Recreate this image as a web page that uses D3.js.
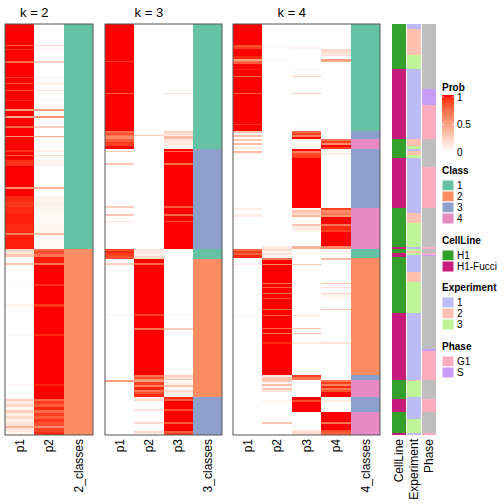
<!DOCTYPE html>
<html><head><meta charset="utf-8">
<script src="https://cdn.jsdelivr.net/npm/d3@7"></script>
<style>body{margin:0;background:#fff}text{font-family:"Liberation Sans",Arial,sans-serif}</style>
</head><body><svg id="c" width="504" height="504"></svg>
<script>
// ---- data: rows are samples in order; segments are [startRow, endRow, ...values, class]
const N = 411;
const k2Cols = ["p1","p2","2_classes"];
const k3Cols = ["p1","p2","p3","3_classes"];
const k4Cols = ["p1","p2","p3","p4","4_classes"];
const classLevels = ["1","2","3","4"];
const classColors = ["#66C2A5","#FC8D62","#8DA0CB","#E78AC3"];

const k2Rows = [
[0,21,1,0,1],[21,22,0.8,0.2,1],[22,25,1,0,1],[25,26,0.9,0.1,1],[26,37,1,0,1],[37,39,0.75,0.25,1],
[39,53,1,0,1],[53,54,0.9,0.1,1],[54,59,1,0,1],[59,60,0.85,0.15,1],[60,66,1,0,1],[66,67,0.85,0.15,1],
[67,76,1,0,1],[76,77,0.95,0.05,1],[77,85,1,0,1],[85,87,0.5,0.5,1],[87,92,1,0,1],[92,94,0.45,0.55,1],
[94,102,1,0,1],[102,104,0.75,0.25,1],[104,112,1,0,1],[112,113,0.55,0.45,1],[113,126,1,0,1],
[126,128,0.93,0.07,1],[128,131,1,0,1],[131,132,0.8,0.2,1],[132,136,1,0,1],[136,142,0.93,0.07,1],
[142,163,1,0,1],[163,165,0.6,0.4,1],[165,172,1,0,1],[172,178,0.95,0.05,1],[178,183,0.92,0.08,1],
[183,190,0.95,0.05,1],[190,200,0.97,0.03,1],[200,209,0.95,0.05,1],[209,211,0.65,0.35,1],[211,225,0.97,0.03,1],
[225,227,0.25,0.75,2],[227,230,0.15,0.85,2],[230,233,0.3,0.7,2],[233,239,0.03,0.97,2],[239,241,0.3,0.7,2],
[241,260,0,1,2],[260,262,0.04,0.94,2],[262,280,0,1,2],[280,283,0.05,0.92,2],[283,310,0,1,2],
[310,312,0.03,0.95,2],[312,360,0,1,2],[360,362,0.04,0.96,2],[362,375,0,1,2],
[375,377,0.25,0.75,2],[377,380,0.1,0.9,2],[380,383,0.2,0.8,2],[383,386,0.05,0.95,2],[386,389,0.25,0.75,2],
[389,392,0.1,0.9,2],[392,395,0.2,0.8,2],[395,398,0.08,0.92,2],[398,402,0.15,0.85,2],[402,404,0.4,0.6,2],
[404,408,0.12,0.88,2],[408,411,0.05,0.95,2]
];

const k3Rows = [
[0,37,1,0,0,1],[37,38,0.92,0.02,0.02,1],[38,69,1,0,0,1],[69,70,0.8,0,0.15,1],[70,107,1,0,0,1],
[107,109,0.75,0,0.25,1],[109,111,0.85,0,0.15,1],[111,112,0.7,0.3,0.1,1],[112,115,0.6,0,0.35,1],
[115,118,0.8,0,0.15,1],[118,122,0.9,0,0.1,1],[122,125,1,0,0.03,1],
[125,127,0,0,1,3],[127,128,0.3,0,0.75,3],[128,139,0,0,1,3],[139,141,0.3,0,0.75,3],[141,182,0,0,1,3],
[182,184,0.25,0,0.8,3],[184,190,0,0,1,3],[190,192,0.3,0,0.75,3],[192,197,0,0,1,3],
[197,198,0.15,0,0.85,3],[198,225,0,0,1,3],
[225,227,0.85,0.15,0,1],[227,229,0.95,0.1,0,1],[229,232,0.9,0.08,0,1],[232,235,0.85,0.2,0,1],
[235,239,0,1,0,2],[239,241,0.25,0.75,0,2],[241,290,0,1,0,2],[290,292,0.03,0.9,0.02,2],[292,304,0,1,0,2],
[304,306,0,0.7,0.25,2],[306,351,0,1,0,2],
[351,353,0,0.7,0.25,2],[353,355,0,0.85,0.15,2],[355,356,0,0.6,0.3,2],[356,358,0.5,0.5,0,2],
[358,361,0,0.9,0.1,2],[361,363,0,0.65,0.3,2],[363,366,0,0.95,0.05,2],[366,368,0,0.7,0.2,2],
[368,370,0,0.85,0.1,2],[370,373,0,0.95,0.05,2],
[373,375,0,0.05,0.95,3],[375,377,0,0.2,0.8,3],[377,385,0,0,1,3],[385,387,0,0.15,0.85,3],
[387,398,0,0,1,3],[398,400,0,0.2,0.8,3],[400,407,0,0,1,3],[407,409,0,0.2,0.8,3],[409,411,0,0.05,0.9,3]
];

const k4Rows = [
[0,21,1,0,0,0,1],[21,23,0.85,0.03,0.02,0,1],[23,25,0.9,0.02,0.05,0,1],[25,28,1,0,0,0.2,1],
[28,32,1,0,0,0.15,1],[32,35,0.95,0,0,0,1],[35,37,0.5,0.02,0,0.5,1],[37,38,0.7,0,0,0.4,1],
[38,40,0.8,0,0,0,1],[40,45,1,0,0,0,1],[45,46,0.95,0,0.05,0,1],[46,52,1,0,0,0,1],
[52,53,0.75,0,0.25,0,1],[53,69,1,0,0,0,1],[69,70,0.8,0,0.25,0,1],[70,100,1,0,0,0,1],
[100,101,0.9,0,0.03,0,1],[101,107,1,0,0,0,1],
[107,109,0.3,0,0.75,0,3],[109,111,0.05,0,0.9,0,3],[111,113,0.35,0,0.65,0,3],[113,115,0,0,1,0,3],
[115,117,0.3,0,0.05,0.7,4],[117,119,0,0,0,0.9,4],[119,121,0.35,0,0.05,0.6,4],[121,123,0,0,0.05,1,4],
[123,125,0.1,0,0,0.9,4],
[125,127,0,0,1,0,3],[127,129,0.35,0,0.65,0,3],[129,131,0.05,0,0.85,0.1,3],[131,134,0,0,0.9,0,3],
[134,184,0,0,1,0,3],
[184,186,0.1,0,0.05,0.9,4],[186,189,0,0,0.3,0.6,4],[189,191,0.05,0,0.2,0.7,4],[191,193,0.1,0,0.4,0.55,4],
[193,200,0,0,0,1,4],[200,202,0,0,0.3,0.7,4],[202,206,0,0,0.1,0.95,4],[206,208,0,0,0.05,0.9,4],
[208,222,0,0,0,1,4],[222,225,0,0.1,0.4,0.6,4],
[225,227,0.75,0.2,0,0.05,1],[227,229,0.9,0.05,0,0.05,1],[229,231,0.8,0.15,0,0.05,1],[231,234,0.95,0.05,0,0,1],
[234,236,0,0.7,0,0.35,2],[236,240,0,1,0,0,2],[240,241,0.1,0.6,0.3,0,2],[241,259,0,1,0,0,2],
[259,260,0,0.7,0,0.3,2],[260,263,0,1,0,0,2],[263,264,0,0.8,0,0.15,2],[264,269,0,1,0,0,2],
[269,270,0,0.7,0,0.25,2],[270,274,0,1,0,0.05,2],[274,275,0,0.85,0,0,2],[275,285,0,1,0,0,2],
[285,286,0,0.75,0,0.3,2],[286,291,0,1,0,0,2],[291,292,0.05,0.8,0.15,0,2],[292,304,0,1,0,0,2],
[304,305,0,0.75,0.3,0,2],[305,309,0,1,0,0,2],[309,310,0,0.7,0.35,0,2],[310,318,0,1,0,0,2],
[318,320,0,0.95,0.1,0.15,2],[320,351,0,1,0,0,2],
[351,353,0,0.1,0.9,0,3],[353,356,0,0.3,0.7,0,3],
[356,358,0,0.3,0,0.7,4],[358,360,0,0.05,0,0.9,4],[360,362,0,0.35,0,0.65,4],[362,364,0,0.05,0,0.95,4],
[364,366,0,0.3,0,0.7,4],[366,368,0,0.15,0,0.85,4],[368,373,0,0,0,1,4],
[373,376,0,0,1,0,3],[376,378,0,0.05,0.85,0.1,3],[378,388,0,0,1,0,3],
[388,398,0,0,0,1,4],[398,400,0,0.3,0,0.7,4],[400,406,0,0,0,1,4],[406,408,0,0,0.15,0.85,4],[408,411,0,0,0.2,0.8,4]
];

const annoCols = ["CellLine","Experiment","Phase"];
const cellLineLevels = ["H1","H1-Fucci"];
const cellLineColors = ["#33A02C","#C51B7D"];
const experimentLevels = ["1","2","3"];
const experimentColors = ["#BBBBF8","#FFC0B0","#BEF596"];
const phaseLevels = ["G1","S"];
const phaseColors = ["#FFABC0","#C79DF8"];
const naColor = "#BEBEBE";

const cellLine = [[0,45,"H1"],[45,115,"H1-Fucci"],[115,134,"H1"],[134,184,"H1-Fucci"],[184,223,"H1"],
[223,225,"H1-Fucci"],[225,229,"H1"],[229,233,"H1-Fucci"],[233,289,"H1"],[289,356,"H1-Fucci"],[356,375,"H1"],[375,388,"H1-Fucci"],
[388,409,"H1"],[409,411,"H1-Fucci"]];
const experiment = [[0,5,"1"],[5,31,"2"],[31,45,"3"],[45,115,"1"],[115,122,"2"],[122,125,"3"],[125,127,"1"],
[127,131,"2"],[131,134,"3"],[134,189,"1"],[189,199,"2"],[199,223,"3"],[223,225,"1"],[225,227,"3"],
[227,229,"2"],[229,231,"3"],[231,248,"1"],[248,258,"2"],[258,289,"3"],[289,356,"1"],[356,357,"2"],[357,373,"3"],
[373,395,"1"],[395,409,"3"],[409,411,"1"]];
const phase = [[0,65,null],[65,81,"S"],[81,115,"G1"],[115,143,null],[143,184,"G1"],[184,223,null],
[223,225,"G1"],[225,229,null],[229,231,"G1"],[231,232,"S"],[232,325,null],[325,327,"S"],[327,356,"G1"],[356,375,null],
[375,388,"G1"],[388,409,null],[409,411,"G1"]];

const probTicks = [0,0.5,1];
const titles = ["k = 2","k = 3","k = 4"];

// ---- drawing
const svg = d3.select("#c");
const y = d3.scaleLinear().domain([0,N]).range([24,435]);
const probColor = d3.scaleLinear().domain([0,1]).range(["#FFFFFF","#FF0000"]).interpolate(d3.interpolateLab);
const classColor = d3.scaleOrdinal().domain(classLevels).range(classColors);

const panels = [
  {cols:k2Cols, rows:k2Rows, range:[5,93], title:titles[0]},
  {cols:k3Cols, rows:k3Rows, range:[105,222], title:titles[1]},
  {cols:k4Cols, rows:k4Rows, range:[233,380], title:titles[2]}
];

panels.forEach(p=>{
  const x = d3.scaleBand().domain(p.cols).range(p.range);
  const g = svg.append("g");
  const nP = p.cols.length-1;
  p.cols.forEach((c,ci)=>{
    g.append("g").selectAll("rect").data(p.rows).join("rect")
      .attr("x", x(c)).attr("width", x.bandwidth())
      .attr("y", d=>y(d[0])).attr("height", d=>y(d[1])-y(d[0]))
      .attr("fill", d=> ci<nP ? probColor(d[2+ci]) : classColor(String(d[2+nP])))
      .attr("shape-rendering","crispEdges");
  });
  g.append("rect").attr("x",p.range[0]).attr("y",y(0)).attr("width",p.range[1]-p.range[0])
    .attr("height",y(N)-y(0)).attr("fill","none").attr("stroke","#555").attr("stroke-width",1);
  const xc = (x(p.cols[0]) + x(p.cols[nP-1]) + x.bandwidth())/2;
  svg.append("text").attr("x",xc).attr("y",17).attr("text-anchor","middle")
    .style("font-size","13px").text(p.title);
  const ax = svg.append("g").attr("transform","translate(0,435)").call(d3.axisBottom(x).tickSize(0));
  ax.select(".domain").remove();
  ax.selectAll("text").attr("transform","rotate(-90)").attr("x",-4).attr("y",0).attr("dy","0.35em")
    .style("text-anchor","end").style("font-size","12px").attr("fill","#000")
    .style("font-family","'Liberation Sans',Arial,sans-serif");
});

// annotations
const xa = d3.scaleBand().domain(annoCols).range([392,436]).paddingInner(0.07);
const clColor = d3.scaleOrdinal().domain(cellLineLevels).range(cellLineColors);
const exColor = d3.scaleOrdinal().domain(experimentLevels).range(experimentColors);
const phColor = d3.scaleOrdinal().domain(phaseLevels).range(phaseColors);
[[cellLine,clColor],[experiment,exColor],[phase,phColor]].forEach(([arr,sc],i)=>{
  svg.append("g").selectAll("rect").data(arr).join("rect")
    .attr("x", xa(annoCols[i])).attr("width", xa.bandwidth())
    .attr("y", d=>y(d[0])).attr("height", d=>y(d[1])-y(d[0]))
    .attr("fill", d=> d[2]==null ? naColor : sc(d[2]))
    .attr("shape-rendering","crispEdges");
});
const axA = svg.append("g").attr("transform","translate(0,435)").call(d3.axisBottom(xa).tickSize(0));
axA.select(".domain").remove();
axA.selectAll("text").attr("transform","rotate(-90)").attr("x",-4).attr("y",0).attr("dy","0.35em")
  .style("text-anchor","end").style("font-size","12px").attr("fill","#000")
  .style("font-family","'Liberation Sans',Arial,sans-serif");

// legends
const lx = 442;
const L = svg.append("g");
L.append("text").attr("x",lx).attr("y",91).style("font-size","10px").style("font-weight","bold").text("Prob");
const grad = svg.append("defs").append("linearGradient").attr("id","pg").attr("x1",0).attr("x2",0).attr("y1",1).attr("y2",0);
d3.range(0,1.0001,0.1).forEach(t=>grad.append("stop").attr("offset",t).attr("stop-color",probColor(t)));
const ly = d3.scaleLinear().domain([0,1]).range([152,97]);
L.append("rect").attr("x",lx).attr("y",95).attr("width",12).attr("height",57).attr("fill","url(#pg)");
probTicks.forEach(t=>{
  L.append("text").attr("x",lx+15).attr("y",ly(t)).attr("dy","0.35em").style("font-size","10px").text(t);
  if(t>0){
    L.append("line").attr("x1",lx).attr("x2",lx+2).attr("y1",ly(t)).attr("y2",ly(t)).attr("stroke","#fff").attr("stroke-width",0.8);
    L.append("line").attr("x1",lx+10).attr("x2",lx+12).attr("y1",ly(t)).attr("y2",ly(t)).attr("stroke","#fff").attr("stroke-width",0.8);
  }
});
function discLegend(title, levels, scale, baseY){
  L.append("text").attr("x",lx).attr("y",baseY).style("font-size","10px").style("font-weight","bold").text(title);
  levels.forEach((lv,i)=>{
    const yy = baseY+6+i*11;
    L.append("rect").attr("x",lx).attr("y",yy).attr("width",12).attr("height",11)
      .attr("fill",scale(lv)).attr("stroke","#fff").attr("stroke-width",1);
    L.append("text").attr("x",lx+15).attr("y",yy+5.5).attr("dy","0.35em").style("font-size","10px").text(lv);
  });
}
discLegend("Class", classLevels, classColor, 174);
discLegend("CellLine", cellLineLevels, clColor, 244);
discLegend("Experiment", experimentLevels, exColor, 291);
discLegend("Phase", phaseLevels, phColor, 350);
</script></body></html>
